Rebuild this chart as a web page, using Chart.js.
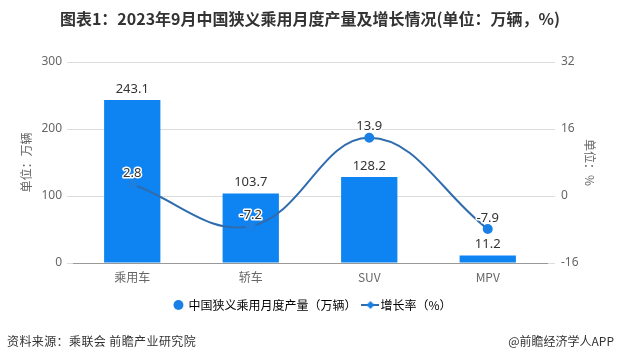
<!DOCTYPE html>
<html>
<head>
<meta charset="utf-8">
<script src="https://cdn.jsdelivr.net/npm/chart.js@4"></script>
<style>
  html,body{margin:0;padding:0;background:#fff;width:620px;height:362px;overflow:hidden;font-family:"Noto Sans CJK SC","Noto Sans",sans-serif;}
  #wrap{position:absolute;left:0;top:0;width:620px;height:362px;}
  #title{position:absolute;left:0;top:7px;width:620px;text-align:center;font-size:16px;font-weight:bold;color:#333;line-height:22px;}
  .foot{position:absolute;top:331px;font-size:12px;color:#333;line-height:20px;letter-spacing:0.4px;}
  #src{left:7px;}
  #brand{right:6px;letter-spacing:0;}
</style>
</head>
<body>
<div id="wrap"><canvas id="c" width="620" height="362"></canvas></div>
<div id="title">图表1：2023年9月中国狭义乘用月度产量及增长情况(单位：万辆，%)</div>
<div class="foot" id="src">资料来源：乘联会 前瞻产业研究院</div>
<div class="foot" id="brand">@前瞻经济学人APP</div>
<script>
const categories = ['乘用车', '轿车', 'SUV', 'MPV'];
const outputValues = [243.1, 103.7, 128.2, 11.2];
const growthValues = [2.8, -7.2, 13.9, -7.9];
const leftTicks = [0, 100, 200, 300];
const rightTicks = [-16, 0, 16, 32];
const seriesNames = ['中国狭义乘用月度产量（万辆）', '增长率（%）'];

const BAR = '#0d84f2';
const LINE = '#2f6cae';
const MARK = '#1a80e6';

// legend icon for line series
const lineIcon = document.createElement('canvas');
lineIcon.width = 18; lineIcon.height = 10;
(function(){
  const g = lineIcon.getContext('2d');
  g.strokeStyle = LINE; g.lineWidth = 2;
  g.beginPath(); g.moveTo(0,5); g.lineTo(18,5); g.stroke();
  g.fillStyle = MARK;
  g.beginPath(); g.moveTo(9,1); g.lineTo(13,5); g.lineTo(9,9); g.lineTo(5,5); g.closePath(); g.fill();
})();

const labelPlugin = {
  id: 'valueLabels',
  afterDatasetsDraw(chart) {
    const ctx = chart.ctx;
    ctx.save();
    ctx.font = '13px "Noto Sans", "DejaVu Sans", sans-serif';
    ctx.textAlign = 'center';
    ctx.textBaseline = 'middle';
    const barMeta = chart.getDatasetMeta(0);
    barMeta.data.forEach((el, i) => {
      ctx.fillStyle = '#333';
      ctx.fillText(outputValues[i].toFixed(1), el.x, el.y - 11);
    });
    const lineMeta = chart.getDatasetMeta(1);
    lineMeta.data.forEach((el, i) => {
      const t = growthValues[i].toFixed(1);
      ctx.lineWidth = 3;
      ctx.strokeStyle = '#fff';
      ctx.lineJoin = 'round';
      ctx.strokeText(t, el.x, el.y - 11);
      ctx.fillStyle = '#333';
      ctx.fillText(t, el.x, el.y - 11);
    });
    ctx.restore();
  }
};

new Chart(document.getElementById('c'), {
  data: {
    labels: categories,
    datasets: [
      {
        type: 'bar', label: seriesNames[0], data: outputValues,
        backgroundColor: BAR, yAxisID: 'y', order: 2,
        categoryPercentage: 1, barPercentage: 0.475
      },
      {
        type: 'line', label: seriesNames[1], data: growthValues,
        borderColor: LINE, borderWidth: 2, tension: 0.4,
        pointRadius: 4, pointBackgroundColor: MARK, pointBorderColor: MARK,
        yAxisID: 'y1', order: 1
      }
    ]
  },
  options: {
    responsive: false,
    animation: false,
    devicePixelRatio: 1,
    layout: { padding: { top: 62, bottom: 41, left: 6, right: 0 } },
    plugins: {
      title: { display: false },
      tooltip: { enabled: false },
      legend: {
        position: 'bottom',
        labels: {
          usePointStyle: true,
          color: '#333',
          font: { size: 12, family: '"Noto Sans CJK SC", sans-serif' },
          padding: 10,
          boxWidth: 8, boxHeight: 7,
          generateLabels() {
            return [
              { text: seriesNames[0], pointStyle: 'circle', fillStyle: MARK, strokeStyle: MARK, lineWidth: 0, datasetIndex: 0 },
              { text: seriesNames[1], pointStyle: lineIcon, fillStyle: MARK, strokeStyle: LINE, lineWidth: 0, datasetIndex: 1 }
            ];
          }
        }
      }
    },
    scales: {
      x: {
        grid: { display: false, drawTicks: false },
        border: { display: true, color: '#999' },
        ticks: { color: '#666', padding: 7, font: { size: 12, family: '"Noto Sans CJK SC", sans-serif' } },
        afterFit(s) { s.height = 26; }
      },
      y: {
        position: 'left', min: 0, max: 300,
        afterBuildTicks(s) { s.ticks = leftTicks.map(v => ({ value: v })); },
        grid: { color: '#dcdcdc', tickLength: 6 },
        border: { display: false },
        ticks: { color: '#666', padding: 5, font: { size: 12, family: '"Noto Sans", sans-serif' } },
        title: { display: true, text: '单位：万辆', color: '#666', padding: { top: 13, bottom: 0 }, font: { size: 12, family: '"Noto Sans CJK SC", sans-serif' } },
        afterFit(s) { s.width = 67; }
      },
      y1: {
        position: 'right', min: -16, max: 32,
        afterBuildTicks(s) { s.ticks = rightTicks.map(v => ({ value: v })); },
        grid: { drawOnChartArea: false, color: '#dcdcdc', tickLength: 8 },
        border: { display: false },
        ticks: { color: '#666', padding: 6, font: { size: 12, family: '"Noto Sans", sans-serif' } },
        title: { display: true, text: '单位：%', color: '#666', padding: { top: 23, bottom: 0 }, font: { size: 12, family: '"Noto Sans CJK SC", sans-serif' } },
        afterFit(s) { s.width = 73; }
      }
    }
  },
  plugins: [labelPlugin]
});
</script>
</body>
</html>
